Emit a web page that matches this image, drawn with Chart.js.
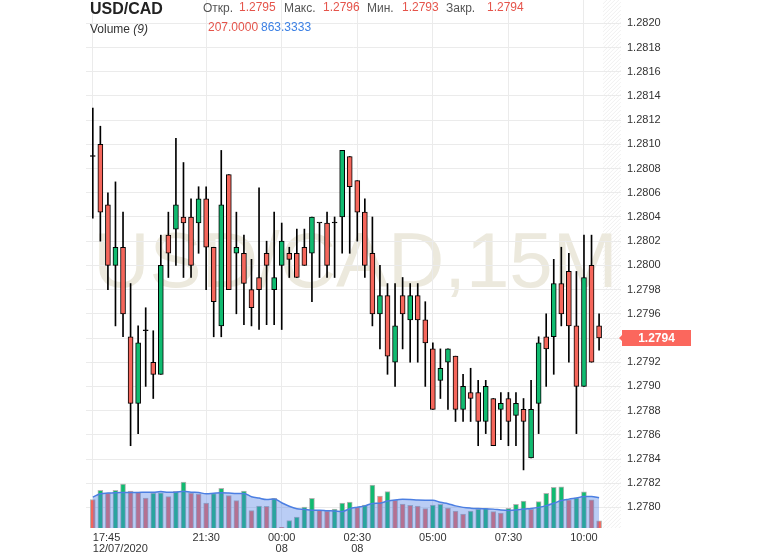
<!DOCTYPE html>
<html>
<head>
<meta charset="utf-8">
<script src="https://cdn.jsdelivr.net/npm/chart.js@4.4.0/dist/chart.umd.min.js"></script>
<style>
  body { margin: 0; background: #fff; font-family: Arial, "Liberation Sans", sans-serif; }
  #wrap { position: relative; width: 774px; height: 558px; }
  #chart { position: absolute; left: 0; top: 0; }
  .t { position: absolute; white-space: nowrap; font-size: 12px; line-height: 12px; }
  .sym { font-size: 16px; line-height: 16px; font-weight: bold; color: #222; }
  .lbl { color: #555; }
  .val { color: #e5544b; }
  .ma { color: #3c80e4; }
  .vol { color: #333; }
</style>
</head>
<body>
<div id="wrap">
  <canvas id="chart" width="774" height="558"></canvas>
  <div class="t sym" style="left:90px;top:1px">USD/CAD</div>
  <div class="t lbl" style="left:203px;top:2px">Откр.</div>
  <div class="t val" style="left:239px;top:1px">1.2795</div>
  <div class="t lbl" style="left:284px;top:2px">Макс.</div>
  <div class="t val" style="left:323px;top:1px">1.2796</div>
  <div class="t lbl" style="left:367px;top:2px">Мин.</div>
  <div class="t val" style="left:402px;top:1px">1.2793</div>
  <div class="t lbl" style="left:446px;top:2px">Закр.</div>
  <div class="t val" style="left:487px;top:1px">1.2794</div>
  <div class="t vol" style="left:90px;top:23px">Volume <i>(9)</i></div>
  <div class="t val" style="left:208px;top:21px">207.0000</div>
  <div class="t ma" style="left:261px;top:21px">863.3333</div>
</div>
<script>
// 15-minute candles, 12/07/2020 17:45 .. 08 10:30
const OPEN = [1.28090, 1.28100, 1.28050, 1.28000, 1.28015, 1.27941, 1.27886, 1.27946, 1.27920, 1.27910,
  1.28025, 1.28030, 1.28040, 1.28040, 1.28035, 1.28055, 1.28015, 1.27950, 1.28075, 1.28010,
  1.28010, 1.27980, 1.27990, 1.28010, 1.27980, 1.28000, 1.28010, 1.28010, 1.28015, 1.28010,
  1.28035, 1.28035, 1.28035, 1.28040, 1.28090, 1.28070, 1.28044, 1.28010, 1.27960, 1.27975,
  1.27920, 1.27975, 1.27955, 1.27975, 1.27955, 1.27931, 1.27905, 1.27920, 1.27925, 1.27881,
  1.27895, 1.27895, 1.27871, 1.27890, 1.27881, 1.27890, 1.27876, 1.27881, 1.27841, 1.27886,
  1.27941, 1.27941, 1.27985, 1.27995, 1.27950, 1.27900, 1.28000, 1.27950];
const HIGH = [1.28130, 1.28115, 1.28060, 1.28069, 1.28044, 1.27985, 1.27950, 1.27965, 1.27946, 1.28025,
  1.28044, 1.28105, 1.28085, 1.28055, 1.28065, 1.28065, 1.28015, 1.28095, 1.28075, 1.28044,
  1.28025, 1.28005, 1.28064, 1.28020, 1.28044, 1.28035, 1.28015, 1.28030, 1.28030, 1.28040,
  1.28035, 1.28044, 1.28040, 1.28095, 1.28090, 1.28070, 1.28055, 1.28040, 1.28000, 1.27985,
  1.27985, 1.27990, 1.27985, 1.27985, 1.27970, 1.27936, 1.27931, 1.27931, 1.27925, 1.27910,
  1.27915, 1.27905, 1.27905, 1.27890, 1.27895, 1.27895, 1.27895, 1.27890, 1.27905, 1.27941,
  1.27960, 1.28005, 1.28015, 1.28010, 1.27995, 1.28025, 1.28025, 1.27960];
const LOW = [1.28039, 1.28020, 1.27980, 1.27950, 1.27941, 1.27851, 1.27861, 1.27900, 1.27890, 1.27910,
  1.27990, 1.28000, 1.27990, 1.27990, 1.28010, 1.27980, 1.27941, 1.27941, 1.27980, 1.27960,
  1.27951, 1.27950, 1.27947, 1.27951, 1.27951, 1.27947, 1.27990, 1.27990, 1.28000, 1.27970,
  1.27990, 1.27990, 1.27990, 1.28010, 1.28010, 1.28020, 1.27990, 1.27950, 1.27931, 1.27910,
  1.27900, 1.27931, 1.27920, 1.27920, 1.27900, 1.27881, 1.27890, 1.27881, 1.27871, 1.27871,
  1.27871, 1.27851, 1.27861, 1.27851, 1.27856, 1.27851, 1.27851, 1.27831, 1.27841, 1.27861,
  1.27900, 1.27910, 1.27950, 1.27920, 1.27861, 1.27900, 1.27920, 1.27930];
const CLOSE = [1.28090, 1.28044, 1.28000, 1.28015, 1.27960, 1.27886, 1.27936, 1.27946, 1.27910, 1.28000,
  1.28010, 1.28050, 1.28035, 1.28000, 1.28055, 1.28015, 1.27970, 1.28050, 1.27980, 1.28015,
  1.27985, 1.27965, 1.27980, 1.28000, 1.27990, 1.28020, 1.28005, 1.27990, 1.28000, 1.28040,
  1.28035, 1.28000, 1.28035, 1.28095, 1.28065, 1.28044, 1.28000, 1.27960, 1.27975, 1.27925,
  1.27950, 1.27960, 1.27975, 1.27955, 1.27936, 1.27881, 1.27915, 1.27931, 1.27881, 1.27900,
  1.27890, 1.27871, 1.27900, 1.27851, 1.27886, 1.27871, 1.27886, 1.27871, 1.27881, 1.27936,
  1.27931, 1.27985, 1.27960, 1.27950, 1.27900, 1.27990, 1.27920, 1.27940];
const VOLUME = [808, 1074, 998, 1074, 1254, 1055, 1026, 855, 998, 1000,
  893, 1045, 1311, 998, 969, 713, 979, 1131, 922, 779,
  1055, 494, 627, 620, 846, 19, 209, 314, 599, 846,
  504, 485, 542, 713, 741, 589, 656, 1226, 912, 1036,
  789, 684, 646, 627, 551, 656, 675, 570, 485, 399,
  485, 542, 561, 466, 428, 561, 675, 770, 532, 753,
  990, 1160, 1170, 800, 860, 1030, 800, 207];
// Volume (9) line
const VOLUME_MA = [880, 975, 995, 1005, 1010, 1015, 1015, 1016, 1016, 1037,
  1017, 1022, 1049, 1020, 1011, 976, 990, 1004, 996, 983,
  984, 893, 852, 813, 828, 721, 619, 551, 531, 508,
  509, 494, 485, 470, 550, 593, 631, 700, 708, 767,
  800, 816, 809, 796, 792, 792, 731, 693, 631, 588,
  566, 554, 547, 538, 512, 500, 511, 543, 558, 588,
  637, 704, 782, 823, 857, 896, 899, 863];
const TICK_POS = [0, 15, 25, 35, 45, 55, 65];
const TICK_LABELS = [['17:45', '12/07/2020'], '21:30', ['00:00', '08'], ['02:30', '08'], '05:00', '07:30', '10:00'];

const X_MIN = -0.9;
const X_MAX = 69.9;
const PRICE_MIN = 1.27783;
const PRICE_MAX = 1.282193;
const VOLUME_AXIS_MAX = 15048;

const RED = '#f5665b';
const GREEN = '#10bb70';
const GRID = '#ebebeb';
const FONT = 'Arial, "Liberation Sans", sans-serif';

const idx = OPEN.map((_, i) => i);
const bodyColors = idx.map(i => CLOSE[i] > OPEN[i] ? GREEN : (CLOSE[i] < OPEN[i] ? RED : '#000'));
const volColors = idx.map(i => (i > 0 && VOLUME[i] > VOLUME[i - 1]) ? GREEN : RED);

// hatched "future" strip and the faint symbol watermark
const backdrop = {
  id: 'backdrop',
  beforeDraw(chart) {
    const { ctx, chartArea: a, scales: { x } } = chart;
    const hx = x.getPixelForValue(OPEN.length - 0.5);
    const w = a.right - hx;
    ctx.save();
    ctx.beginPath();
    ctx.rect(hx, a.top, w, a.bottom - a.top);
    ctx.clip();
    ctx.strokeStyle = '#f0f0f0';
    ctx.lineWidth = 1;
    for (let k = a.top; k < a.bottom + w; k += 4) {
      ctx.beginPath();
      ctx.moveTo(hx, k);
      ctx.lineTo(a.right, k - w);
      ctx.stroke();
    }
    ctx.restore();

    ctx.save();
    ctx.font = '78px ' + FONT;
    ctx.fillStyle = '#ece9dd';
    ctx.textAlign = 'center';
    ctx.textBaseline = 'alphabetic';
    ctx.fillText('USD/CAD,15M', (a.left + a.right) / 2 + 2, a.top + 287);
    ctx.restore();
  }
};

// last price marker on the right axis
const priceTag = {
  id: 'priceTag',
  afterDraw(chart) {
    const { ctx, chartArea: a, scales: { y } } = chart;
    const last = CLOSE[CLOSE.length - 1];
    const py = Math.round(y.getPixelForValue(last));
    const x0 = a.right + 1;
    const w = 69;
    ctx.save();
    ctx.fillStyle = '#fb675d';
    ctx.beginPath();
    ctx.moveTo(x0, py - 8);
    ctx.lineTo(x0 + w, py - 8);
    ctx.lineTo(x0 + w, py + 8);
    ctx.lineTo(x0, py + 8);
    ctx.lineTo(x0, py + 3);
    ctx.lineTo(x0 - 3, py);
    ctx.lineTo(x0, py - 3);
    ctx.closePath();
    ctx.fill();
    ctx.fillStyle = '#fff';
    ctx.font = 'bold 12px ' + FONT;
    ctx.textAlign = 'center';
    ctx.textBaseline = 'middle';
    ctx.fillText(last.toFixed(4), x0 + w / 2, py + 1);
    ctx.restore();
  }
};

new Chart(document.getElementById('chart'), {
  type: 'bar',
  data: {
    datasets: [
      {
        label: 'body',
        data: idx.map(i => ({ x: i, y: [OPEN[i], CLOSE[i]] })),
        backgroundColor: bodyColors,
        borderColor: '#000',
        borderWidth: 1,
        borderSkipped: false,
        barThickness: 5,
        minBarLength: 1,
        grouped: false,
        order: 0,
        yAxisID: 'y'
      },
      {
        label: 'wick',
        data: idx.map(i => ({ x: i, y: [LOW[i], HIGH[i]] })),
        backgroundColor: '#000',
        borderWidth: 0,
        barThickness: 1,
        grouped: false,
        order: 1,
        yAxisID: 'y'
      },
      {
        type: 'line',
        label: 'Volume (9)',
        data: idx.map(i => ({ x: i, y: VOLUME_MA[i] })),
        borderColor: '#4c7fe2',
        borderWidth: 1.5,
        backgroundColor: 'rgba(82,130,230,0.4)',
        fill: 'start',
        pointRadius: 0,
        tension: 0.4,
        cubicInterpolationMode: 'monotone',
        order: 2,
        yAxisID: 'yv'
      },
      {
        label: 'Volume',
        data: idx.map(i => ({ x: i, y: VOLUME[i] })),
        backgroundColor: volColors,
        borderColor: '#b4b4b4',
        borderWidth: 1,
        barThickness: 5,
        grouped: false,
        order: 3,
        yAxisID: 'yv'
      }
    ]
  },
  options: {
    responsive: false,
    animation: false,
    devicePixelRatio: 1,
    layout: { padding: { left: 86, top: 0, right: 0, bottom: 0 } },
    plugins: { legend: { display: false }, tooltip: { enabled: false } },
    scales: {
      x: {
        type: 'linear',
        offset: false,
        min: X_MIN,
        max: X_MAX,
        afterBuildTicks: s => { s.ticks = TICK_POS.concat([X_MAX]).map(v => ({ value: v })); },
        afterFit: s => { s.height = 30; s.paddingLeft = 0; s.paddingRight = 0; },
        border: { display: false },
        grid: {
          offset: false,
          color: c => (c.tick && TICK_POS.includes(c.tick.value)) ? GRID : 'rgba(0,0,0,0)',
          drawTicks: false
        },
        ticks: {
          autoSkip: false,
          maxRotation: 0,
          align: 'inner',
          padding: 4,
          color: '#333',
          font: { size: 11, family: FONT, lineHeight: 1 },
          callback: v => {
            const k = TICK_POS.indexOf(v);
            return k < 0 ? '' : TICK_LABELS[k];
          }
        }
      },
      y: {
        position: 'right',
        min: PRICE_MIN,
        max: PRICE_MAX,
        afterFit: s => { s.width = 153; s.paddingTop = 0; s.paddingBottom = 0; },
        border: { display: false },
        grid: { color: GRID, drawTicks: false },
        ticks: {
          stepSize: 0.0002,
          includeBounds: false,
          padding: 6,
          color: '#333',
          font: { size: 11, family: FONT },
          callback: v => v.toFixed(4)
        }
      },
      yv: {
        display: false,
        min: 0,
        max: VOLUME_AXIS_MAX
      }
    }
  },
  plugins: [backdrop, priceTag]
});
</script>
</body>
</html>
